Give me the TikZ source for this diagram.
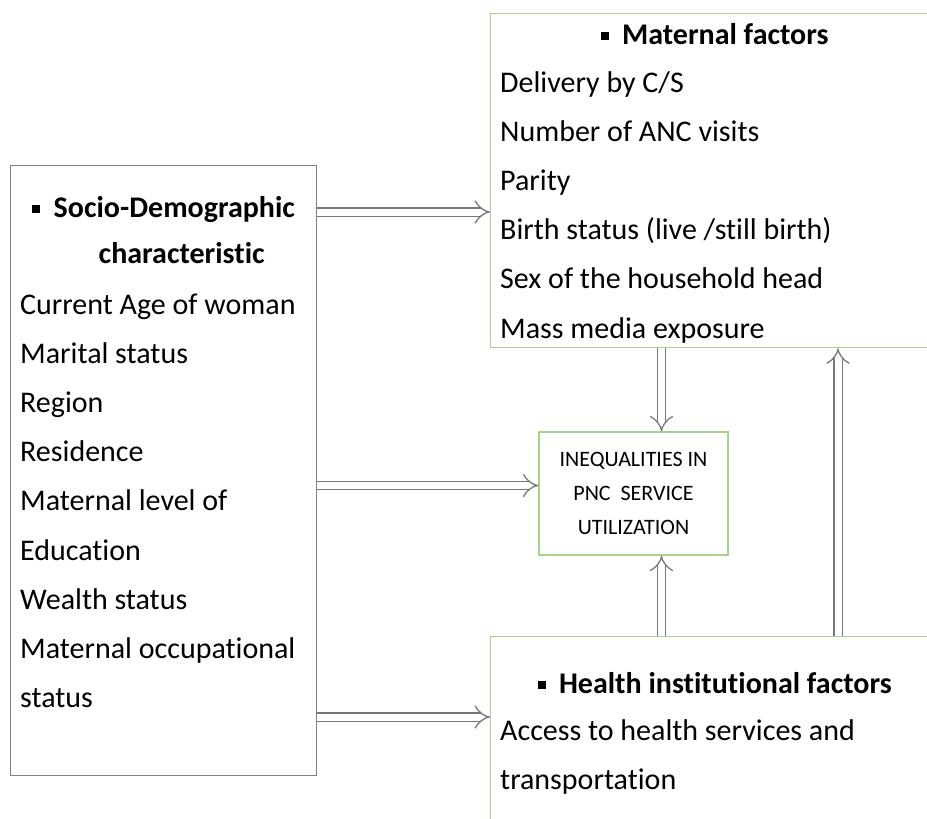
\documentclass[tikz,border=0pt]{standalone}
\usepackage{fontspec}
\setmainfont{Carlito}[Ligatures=NoCommon]
\usepackage{xcolor}
\usetikzlibrary{arrows.meta, positioning}
\definecolor{boxgreen}{RGB}{169,209,142}
\definecolor{boxgray}{RGB}{128,128,128}
\definecolor{arrgray}{RGB}{120,120,120}
\newcommand{\bul}{\rule[0.15em]{0.26em}{0.26em}\hspace{0.45em}}

\begin{document}
\begin{tikzpicture}[x=1pt, y=1pt,
  gbox/.style={draw=boxgreen, line width=1.4pt, minimum width=448, inner sep=0pt},
  sbox/.style={draw=boxgray, line width=1.4pt, inner sep=0pt},
  head/.style={font=\bfseries\fontsize{30}{46}\selectfont, align=center, inner sep=0pt},
  list/.style={font=\fontsize{30}{49.2}\selectfont, align=left, inner sep=0pt},
  arr/.style={draw=arrgray, line width=1.3pt, double=white, double distance=7pt, -{Implies}}
]
\useasboundingbox (0,0) rectangle (927,-819);
\clip (0,0) rectangle (927,-819);

% boxes
\node[sbox, minimum width=306, minimum height=610, anchor=north west] (socio) at (10,-165) {};
\node[gbox, minimum height=334, anchor=north west] (mat) at (490,-13) {};
\node[gbox, minimum height=220, anchor=north west] (health) at (490,-636) {};
\node[draw=boxgreen, line width=1.4pt, minimum width=189, minimum height=123,
  font=\fontsize{22}{34}\selectfont, align=center, inner sep=0pt] (ineq) at (633.5,-493.5)
  {INEQUALITIES IN\\PNC~~SERVICE\\UTILIZATION};

% texts
\node[head, anchor=north] (sociohead) at ([yshift=-31]socio.north)
  {\bul Socio-Demographic\\\hspace*{1.2em}characteristic};
\node[list, anchor=base west] (socioitems) at ([xshift=10,yshift=-542.6]socio.north west)
  {Current Age of woman\\Marital status\\Region\\Residence\\Maternal level of\\Education\\Wealth status\\Maternal occupational\\status};
\node[head, anchor=center] (mathead) at ([yshift=-21]mat.north) {\bul Maternal factors};
\node[list, anchor=base west] (matitems) at ([xshift=10,yshift=-325]mat.north west)
  {Delivery by C/S\\Number of ANC visits\\Parity\\Birth status (live /still birth)\\Sex of the household head\\Mass media exposure};
\node[head, anchor=center] (healthhead) at ([yshift=-47]health.north) {\bul Health institutional factors};
\node[list, anchor=base west] (healthitems) at ([xshift=10,yshift=-153.2]health.north west)
  {Access to health services and\\transportation};

% arrows
\draw[arr] ([yshift=-47]socio.north east) -- ([yshift=-47]socio.north east -| mat.west);
\draw[arr] ([yshift=8]ineq.west -| socio.east) -- ([yshift=8]ineq.west);
\draw[arr] ([yshift=-81]health.north west -| socio.east) -- ([yshift=-81]health.north west);
\draw[arr] ([xshift=28]ineq.north |- mat.south) -- ([xshift=28]ineq.north);
\draw[arr] ([xshift=28]ineq.south |- health.north) -- ([xshift=28]ineq.south);
\draw[arr] ([xshift=348]health.north west) -- ([xshift=348]mat.south west);
\end{tikzpicture}
\end{document}
